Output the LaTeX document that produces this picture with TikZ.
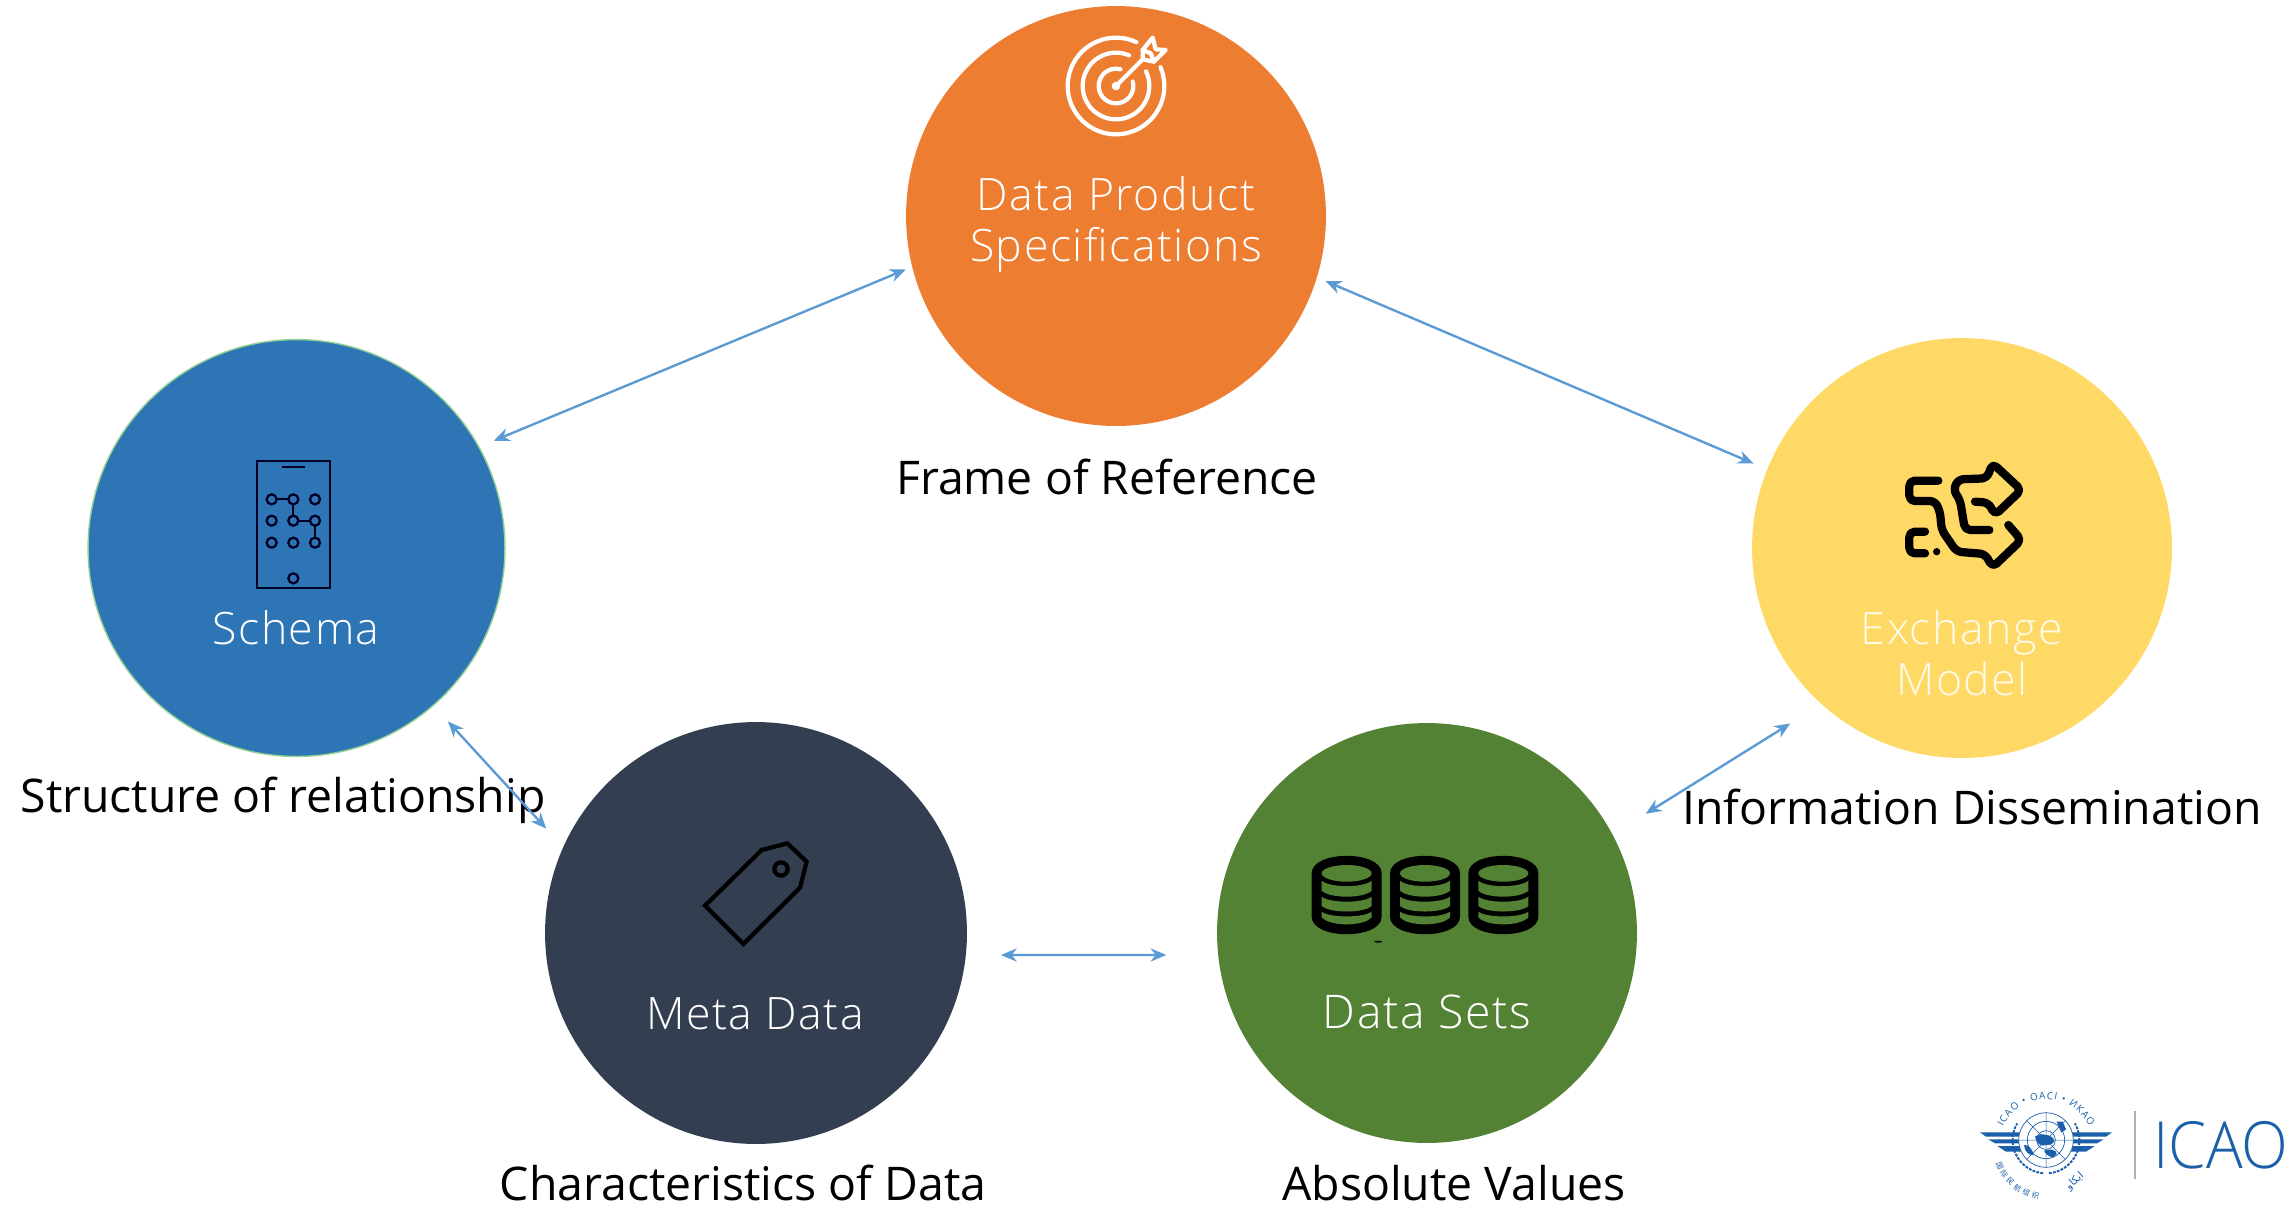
\documentclass[tikz,border=0pt]{standalone}
\usepackage{fontspec}
\usetikzlibrary{arrows.meta,decorations.text}
\setmainfont{Open Sans}
\newfontfamily\lightf[LetterSpace=3.5]{Open Sans Light}
\newfontfamily\logolight{Open Sans Light}
\newfontfamily\cjkf{Noto Sans CJK SC}
\newfontfamily\arabicfont[Script=Arabic]{DejaVu Sans}
\TeXXeTstate=1
\definecolor{corange}{HTML}{ED7D31}
\definecolor{cblue}{HTML}{2E75B6}
\definecolor{cyellow}{HTML}{FFD966}
\definecolor{cnavy}{HTML}{333F50}
\definecolor{cgreen}{HTML}{548235}
\definecolor{carrow}{HTML}{5B9BD5}
\definecolor{clogo}{HTML}{1B5FAA}
\tikzset{
  circ/.style={circle,inner sep=0pt,outer sep=0pt,minimum size=8.4cm},
  inlabel/.style={text=white,font=\lightf\fontsize{25.4}{25.4}\selectfont,inner sep=0pt,text height=18pt,text depth=0pt},
  outlabel/.style={text=black,font=\fontsize{26.4}{26.4}\selectfont,inner sep=0pt,text height=19pt,text depth=0pt},
  link/.style={carrow,line width=1.35pt,{Stealth[length=9pt,width=7.5pt]}-{Stealth[length=9pt,width=7.5pt]}},
  icon/.style={line cap=round,line join=round},
}
\begin{document}
\begin{tikzpicture}[x=0.02cm,y=-0.02cm]
\useasboundingbox (0,0) rectangle (2285,1205);
\fill[white] (0,0) rectangle (2285,1205);
% circles
\node[circ,fill=corange] (orange) at (1116,216) {};
\node[circ,fill=cblue,draw=green!40!gray!60!white,line width=0.8pt,minimum size=8.34cm] (blue) at (296.5,548) {};
\node[circ,fill=cyellow] (yellow) at (1962,548) {};
\node[circ,fill=cnavy,minimum size=8.44cm] (navy) at (756,933) {};
\node[circ,fill=cgreen] (green) at (1427,933) {};
% circle labels
\node[inlabel] (t1a) at (1116,195) {Data Product};
\node[inlabel] (t1b) at (1116,246) {Specifications};
\node[inlabel] (t2) at (296,629) {Schema};
\node[inlabel,text=white!85!cyellow] (t3a) at (1962,629) {Exchange};
\node[inlabel,text=white!85!cyellow] (t3b) at (1962,680) {Model};
\node[inlabel] (t4) at (755,1014) {Meta Data};
\node[inlabel,font=\lightf\fontsize{26.4}{26.4}\selectfont] (t5) at (1427,1013) {Data Sets};
% outer labels
\node[outlabel] (l1) at (1107,477.5) {Frame of Reference};
\node[outlabel] (l2) at (283,795.5) {Structure of relationship};
\node[outlabel] (l3) at (743,1183.5) {Characteristics of Data};
\node[outlabel] (l4) at (1454,1183.5) {Absolute Values};
\node[outlabel] (l5) at (1972,807.5) {Information Dissemination};
% connectors
\draw[link,shorten <=9.2pt,shorten >=4pt] (blue.29.2) -- (orange.194.4);
\draw[link,shorten <=5.4pt,shorten >=8.5pt] (orange.-17) -- (yellow.158.7);
\draw[link,shorten <=20.9pt,shorten >=22.3pt] (yellow.228.4) -- (green.28.6);
\draw[link,shorten <=20pt,shorten >=29.5pt] (navy.-6.26) -- (green.186.29);
\draw[link,shorten <=12.4pt,shorten >=14.3pt] (blue.-49.9) -- (navy.156.7);
% target icon
\begin{scope}[shift={(1000,0)},x=0.02cm/3,y=-0.02cm/3,white,icon,line width=2.4pt]
\draw ([shift={(-23:145)}]348,258) arc[start angle=-23,end angle=295,radius=145];
\draw ([shift={(-26:100)}]348,258) arc[start angle=-26,end angle=293,radius=100];
\draw ([shift={(-15:52)}]348,258) arc[start angle=-15,end angle=285,radius=52];
\draw (348,258) -- (428,178);
\fill (348,258) circle[radius=13];
\draw (428,150) -- (458,113) -- (467,148) -- (497,150) -- (462,185) -- (428,178) -- cycle;
\draw (428,150) -- (452,160) -- (462,185);
\end{scope}
% phone icon
\begin{scope}[shift={(200,430)},x=0.02cm/3,y=-0.02cm/3,draw=black!85!blue,line width=1.3pt]
\draw (171,93) rectangle (390,474);
\draw (247,110) -- (315,110);
\draw (230,208) -- (265,208) (280,223) -- (280,257) (295,272) -- (330,272) (345,287) -- (345,323);
\foreach \px in {215,280,345}{\foreach \py in {208,272,338}{\draw (\px,\py) circle[radius=15];}}
\draw (280,445) circle[radius=15];
\end{scope}
% exchange icon
\begin{scope}[shift={(1860,440)},x=0.02cm/3,y=-0.02cm/3,black,icon,line width=4.7pt]
\draw[rounded corners=3pt] (235,122) -- (148,122) -- (148,183) -- (225,183) -- (240,215) -- (245,270) -- (290,335) -- (375,342) -- (398,382) -- (484,300) -- (445,255);
\draw[rounded corners=3pt] (388,270) -- (315,270) -- (300,180) -- (280,150) -- (295,118) -- (380,115) -- (398,70) -- (484,150) -- (405,225) -- (385,188) -- (345,185);
\draw[rounded corners=3pt] (195,275) -- (148,275) -- (148,340) -- (195,340);
\fill (230,335) circle[radius=11];
\end{scope}
% tag icon
\begin{scope}[shift={(680,820)},x=0.02cm/3,y=-0.02cm/3,black,line width=2.4pt,line join=miter]
\draw (75,257) -- (245,90) -- (322,70) -- (380,125) -- (360,203) -- (190,372) -- cycle;
\draw (303,147) circle[radius=20];
\end{scope}
% database icons
\begin{scope}[shift={(1290,840)},x=0.02cm/3,y=-0.02cm/3]
\foreach \dx in {0,235,470}{
\begin{scope}[shift={(\dx,0)}]
\fill[black] (65,100) .. controls (65,30) and (275,30) .. (275,100) -- (275,230) .. controls (275,300) and (65,300) .. (65,230) -- cycle;
\fill[cgreen] (170,100) ellipse[x radius=75,y radius=25];
\fill[cgreen] (95,122) .. controls (120,144) and (220,144) .. (245,122) -- (245,152) .. controls (220,176) and (120,176) .. (95,152) -- cycle;
\fill[cgreen] (95,170) .. controls (120,190) and (220,190) .. (245,170) -- (245,198) .. controls (220,220) and (120,220) .. (95,198) -- cycle;
\fill[cgreen] (95,215) .. controls (120,234) and (220,234) .. (245,215) -- (245,232) .. controls (220,260) and (120,260) .. (95,232) -- cycle;
\end{scope}}
\fill[black] (265,305) ellipse[x radius=12,y radius=3];
\end{scope}
% ICAO logo
\begin{scope}[shift={(1960,1090)},x=0.02cm/3,y=-0.02cm/3,clogo]
\draw[line width=1.1pt,dash pattern=on 1.6pt off 0.7pt] ([shift={(-265:100)}]258,150) arc[start angle=-265,end angle=-150,radius=100];
\draw[line width=1.1pt,dash pattern=on 1.6pt off 0.7pt] ([shift={(-275:100)}]258,150) arc[start angle=-275,end angle=-390,radius=100];
\foreach \sgn/\base in {1/0,-1/516}{
\begin{scope}[shift={(\base,0)},x=\sgn*0.02cm/3]
\fill (60,127) -- (195,127) -- (190,140) -- (78,140) -- cycle;
\fill (85,148) -- (190,148) -- (186,160) -- (105,160) -- cycle;
\fill (112,168) -- (186,168) -- (190,185) -- (138,185) -- cycle;
\end{scope}}
\fill[white] (258,150) circle[radius=82];
\draw[line width=0.4pt] (258,150) circle[radius=82] (258,150) circle[radius=56] (258,150) circle[radius=28];
\draw[line width=0.3pt] (258,68) -- (258,232) (176,150) -- (340,150) (200,92) -- (316,208) (316,92) -- (200,208);
\fill (225,140) .. controls (235,130) and (265,130) .. (280,145) .. controls (290,160) and (270,165) .. (258,165) .. controls (245,172) and (228,160) .. (225,140) -- cycle;
\fill (252,182) .. controls (265,175) and (292,178) .. (290,192) .. controls (282,208) and (262,202) .. (252,182) -- cycle;
\fill (192,165) .. controls (205,162) and (220,180) .. (220,196) .. controls (208,196) and (193,185) .. (192,165) -- cycle;
\fill (290,95) -- (308,95) -- (318,118) -- (304,128) -- cycle;
\path[decorate,decoration={text along path,text align={fit to path},text={|\fontsize{5.6}{6}\selectfont\color{clogo}|ICAO • OACI • ИКАО}}] ([shift={(-155:142)}]258,170) arc[start angle=-155,end angle=-25,radius=142];
\path[decorate,decoration={text along path,text align={fit to path},text={|\cjkf\fontsize{4.2}{5}\selectfont\color{clogo}|国际民航组织}}] ([shift={(-198:158)}]258,170) arc[start angle=-198,end angle=-262,radius=158];
\node[rotate=42,inner sep=0pt,text=clogo,font=\arabicfont\fontsize{6}{6}\selectfont] (logoar) at (345,275) {\beginR ايكاو\endR};
\draw[black!25!gray!50!white,line width=0.9pt] (525,63) -- (525,268);
\node[anchor=west,inner sep=0pt,xscale=.94,text=clogo,font=\logolight\fontsize{37}{37}\selectfont] (logotx) at (578,165) {ICAO};
\end{scope}
\end{tikzpicture}
\end{document}
